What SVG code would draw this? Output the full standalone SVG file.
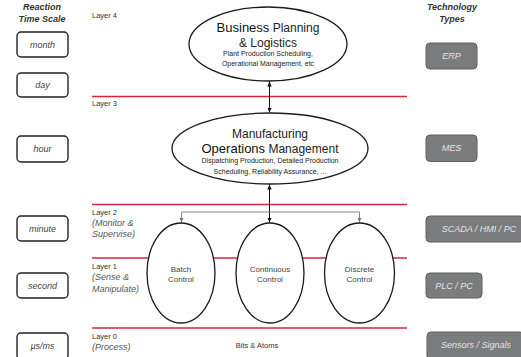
<svg xmlns="http://www.w3.org/2000/svg" width="521" height="357" viewBox="0 0 521 357">
<defs>
<style>
text{font-family:"Liberation Sans",Arial,sans-serif;}
.hdr{font-size:9px;font-weight:bold;font-style:italic;fill:#333;text-anchor:middle;}
.lay{font-size:7.5px;fill:#333;}
.layi{font-size:9px;font-style:italic;fill:#555;}
.tbox{fill:#fff;stroke:#222;stroke-width:1.4;}
.tt{font-size:9px;font-style:italic;fill:#444;text-anchor:middle;}
.gbox{fill:#7b7c7e;stroke:#5e5f61;stroke-width:1;}
.gt{font-size:9px;font-style:italic;fill:#e4e4e4;text-anchor:middle;}
.red{stroke:#d3263a;stroke-width:1.6;fill:none;}
.ell{fill:#fff;stroke:#1a1a1a;stroke-width:1.3;}
.big{font-size:12px;fill:#222;text-anchor:middle;}
.bigb{font-size:13px;fill:#111;}
.sm{font-size:7px;fill:#222;text-anchor:middle;}
.ctl{font-size:8px;fill:#444;text-anchor:middle;}
</style>
<marker id="ab" markerWidth="6" markerHeight="6" refX="5" refY="3" orient="auto" markerUnits="userSpaceOnUse"><path d="M0,0.8 L5,3 L0,5.2 Z" fill="#111"/></marker>
<marker id="ag" markerWidth="6" markerHeight="6" refX="5" refY="3" orient="auto" markerUnits="userSpaceOnUse"><path d="M0,0.8 L5,3 L0,5.2 Z" fill="#777"/></marker>
</defs>
<rect width="521" height="357" fill="#fff"/>

<g id="headers">
<text class="hdr" x="42" y="10">Reaction</text>
<text class="hdr" x="42" y="22">Time Scale</text>
<text class="hdr" x="452" y="10">Technology</text>
<text class="hdr" x="452" y="22">Types</text>
</g>

<g id="layer-lines">
<line class="red" x1="92" y1="96.5" x2="407" y2="96.5"/>
<line class="red" x1="92" y1="204.5" x2="407" y2="204.5"/>
<line class="red" x1="92" y1="258" x2="407" y2="258"/>
<line class="red" x1="92" y1="328" x2="407" y2="328"/>
</g>

<g id="layer-labels">
<text class="lay" x="92" y="18">Layer 4</text>
<text class="lay" x="92" y="106">Layer 3</text>
<text class="lay" x="92" y="215">Layer 2</text>
<text class="layi" x="92" y="226">(Monitor &amp;</text>
<text class="layi" x="92" y="237">Supervise)</text>
<text class="lay" x="92" y="269">Layer 1</text>
<text class="layi" x="92" y="280">(Sense &amp;</text>
<text class="layi" x="92" y="292">Manipulate)</text>
<text class="lay" x="92" y="339">Layer 0</text>
<text class="layi" x="92" y="350">(Process)</text>
<text class="lay" x="257" y="348" text-anchor="middle">Bits &amp; Atoms</text>
</g>

<g id="time-month"><rect class="tbox" x="17" y="32" width="51" height="25" rx="4"/><text class="tt" x="42.5" y="47.5">month</text></g>
<g id="time-day"><rect class="tbox" x="17" y="73" width="51" height="24" rx="4"/><text class="tt" x="42.5" y="88">day</text></g>
<g id="time-hour"><rect class="tbox" x="17" y="136" width="51" height="26" rx="4"/><text class="tt" x="42.5" y="152">hour</text></g>
<g id="time-minute"><rect class="tbox" x="17" y="216" width="51" height="25" rx="4"/><text class="tt" x="42.5" y="231.5">minute</text></g>
<g id="time-second"><rect class="tbox" x="17" y="273" width="51" height="25" rx="4"/><text class="tt" x="42.5" y="288.5">second</text></g>
<g id="time-us"><rect class="tbox" x="17" y="333" width="51" height="26" rx="4"/><text class="tt" x="42.5" y="349">µs/ms</text></g>

<g id="tech-erp"><rect class="gbox" x="426" y="43" width="51" height="26" rx="4"/><text class="gt" x="451.5" y="59">ERP</text></g>
<g id="tech-mes"><rect class="gbox" x="426" y="135" width="51" height="26.5" rx="4"/><text class="gt" x="451.5" y="151">MES</text></g>
<g id="tech-scada"><rect class="gbox" x="426" y="216" width="98" height="26" rx="4"/><text class="gt" x="479" y="232">SCADA / HMI / PC</text></g>
<g id="tech-plc"><rect class="gbox" x="426" y="273" width="56" height="25" rx="4"/><text class="gt" x="454" y="288.5">PLC / PC</text></g>
<g id="tech-sensors"><rect class="gbox" x="427" y="332" width="97" height="28" rx="4"/><text class="gt" x="476" y="348">Sensors / Signals</text></g>

<g id="connectors">
<line x1="269.5" y1="84" x2="269.5" y2="81" stroke="#111" stroke-width="1"/>
<line x1="269.5" y1="87" x2="269.5" y2="112.5" stroke="#111" stroke-width="1" marker-end="url(#ab)"/>
<line x1="269.5" y1="100" x2="269.5" y2="81.5" stroke="#111" stroke-width="1" marker-end="url(#ab)"/>
<line x1="269.5" y1="200" x2="269.5" y2="222.5" stroke="#111" stroke-width="1" marker-end="url(#ab)"/>
<line x1="269.5" y1="200" x2="269.5" y2="184.5" stroke="#111" stroke-width="1" marker-end="url(#ab)"/>
<polyline points="181.5,222.5 181.5,212 359.5,212 359.5,222.5" fill="none" stroke="#888" stroke-width="1"/>
<line x1="181.5" y1="215" x2="181.5" y2="222.5" stroke="#888" stroke-width="1" marker-end="url(#ag)"/>
<line x1="359.5" y1="215" x2="359.5" y2="222.5" stroke="#888" stroke-width="1" marker-end="url(#ag)"/>
</g>

<g id="business">
<ellipse class="ell" cx="268" cy="44" rx="79" ry="37"/>
<text class="big" x="268" y="32"><tspan class="bigb">Business</tspan> Planning</text>
<text class="big" x="268" y="47">&amp; Logistics</text>
<text class="sm" x="268" y="56">Plant Production Scheduling,</text>
<text class="sm" x="268" y="66">Operational Management, etc</text>
</g>

<g id="mom">
<ellipse class="ell" cx="270" cy="148.5" rx="98" ry="35.5"/>
<text class="big" x="270" y="137.5">Manufacturing</text>
<text class="big" x="270" y="152.5"><tspan class="bigb">Operations</tspan> Management</text>
<text class="sm" x="270" y="163">Dispatching Production, Detailed Production</text>
<text class="sm" x="270" y="174">Scheduling, Reliability Assurance, ...</text>
</g>

<g id="batch">
<ellipse class="ell" cx="181" cy="273" rx="34" ry="50"/>
<text class="ctl" x="181" y="272">Batch</text>
<text class="ctl" x="181" y="282">Control</text>
</g>
<g id="continuous">
<ellipse class="ell" cx="270" cy="273" rx="34" ry="50"/>
<text class="ctl" x="270" y="272">Continuous</text>
<text class="ctl" x="270" y="282">Control</text>
</g>
<g id="discrete">
<ellipse class="ell" cx="359.5" cy="273" rx="35" ry="50"/>
<text class="ctl" x="359.5" y="272">Discrete</text>
<text class="ctl" x="359.5" y="282">Control</text>
</g>
</svg>
